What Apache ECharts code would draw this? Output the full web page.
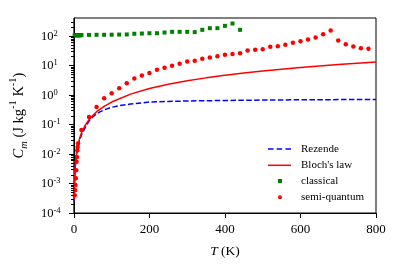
<!DOCTYPE html>
<html><head><meta charset="utf-8">
<script src="https://cdn.jsdelivr.net/npm/echarts@6/dist/echarts.min.js"></script>
<style>html,body{margin:0;padding:0;background:#fff}#c{width:399px;height:271px}</style>
</head><body><div id="c"></div>
<script>
// ---- data ----
const rezendeT = [0.6, 1, 2, 3, 5, 7, 10, 15, 20, 30, 40, 50, 60, 70, 80, 100, 120, 150, 200, 250, 300, 400, 500, 600, 700, 800];
const rezendeC = [2.5e-4, 5.4e-4, 1.5e-3, 2.8e-3, 6.0e-3, 9.8e-3, 0.016, 0.029, 0.044, 0.078, 0.13, 0.18, 0.23, 0.27, 0.31, 0.38, 0.43, 0.49, 0.57, 0.60, 0.62, 0.645, 0.665, 0.68, 0.69, 0.70];

const blochT = [0.6, 1, 2, 3, 5, 7, 10, 15, 20, 30, 40, 50, 60, 80, 100, 150, 200, 250, 300, 350, 400, 450, 500, 550, 600, 650, 700, 750, 800];
const blochC = [2.7e-4, 5.7e-4, 1.6e-3, 3.0e-3, 6.4e-3, 0.0106, 0.018, 0.033, 0.051, 0.094, 0.145, 0.20, 0.27, 0.41, 0.57, 1.06, 1.63, 2.27, 2.98, 3.76, 4.6, 5.48, 6.42, 7.41, 8.44, 9.52, 10.6, 11.8, 13.0];

const classicalT = [2, 4, 6, 8, 10, 12, 14, 16, 18, 20, 40, 60, 80, 100, 120, 140, 160, 180, 200, 220, 240, 260, 280, 300, 320, 340, 360, 380, 400, 420, 440];
const classicalC = [103, 105, 104, 106, 104, 103, 105, 104, 105, 106, 107, 108, 108, 109, 110, 111, 117, 119, 122, 122, 129, 136, 136, 136, 133, 159, 181, 181, 217, 260, 159];

const semiT = [2, 3, 4, 5, 6, 7, 8, 9, 10, 11, 20, 40, 60, 80, 100, 120, 140, 160, 180, 200, 220, 240, 260, 280, 300, 320, 340, 360, 380, 400, 420, 440, 460, 480, 500, 520, 540, 560, 580, 600, 620, 640, 660, 680, 700, 720, 740, 760, 780];
const semiC = [4.0e-4, 5.9e-4, 8.8e-4, 1.5e-3, 2.8e-3, 5.4e-3, 7.9e-3, 0.0133, 0.0173, 0.0224, 0.065, 0.178, 0.39, 0.77, 1.13, 1.68, 2.45, 3.55, 4.5, 5.45, 7.1, 8.3, 9.7, 11.3, 13.5, 14.4, 16.7, 18.5, 20.4, 22.8, 24, 25.8, 31.5, 33.6, 35.3, 42.4, 44.6, 49.5, 57.8, 65.8, 75, 87.5, 113, 150, 69, 52, 43.5, 38, 36.4];

// ---- axes / ticks ----
const xTicks = [0, 200, 400, 600, 800];
const yTickExps = [-4, -3, -2, -1, 0, 1, 2];
const yMinorMultipliers = [2, 3, 4, 5, 6, 7, 8, 9];
const yMin = 1e-4, yMax = 400;

const zip = (a, b) => a.map((v, i) => [v, b[i]]);
const FONT = 'Liberation Serif';

// tick marks on the log axis (major + minor), placed through the axis scale
const tickData = [];
yTickExps.forEach(e => {
  tickData.push([0, Math.pow(10, e), 5]);
  yMinorMultipliers.forEach(m => {
    const v = m * Math.pow(10, e);
    if (v < yMax) tickData.push([0, v, 3]);
  });
});

const legendText = pad => ({fontFamily: FONT, fontSize: 11, color: '#000', lineHeight: 12, padding: [0, 0, 0, pad]});

const chart = echarts.init(document.getElementById('c'), null, {renderer: 'canvas'});
chart.setOption({
  animation: false,
  backgroundColor: '#fff',
  grid: {left: 70, right: 23, top: 18, bottom: 58, show: true, borderColor: '#000', borderWidth: 1, backgroundColor: 'transparent'},
  legend: [
    {
      orient: 'vertical', left: 263, top: 138,
      itemWidth: 23, itemHeight: 4, itemGap: 4.3,
      textStyle: legendText(5),
      data: [
        {name: 'Rezende', icon: 'path://M0,0H5.5V1.5H0Z M8.7,0H14.2V1.5H8.7Z M17.5,0H23V1.5H17.5Z'},
        {name: "Bloch's law", icon: 'path://M0,0H23V1.5H0Z'}
      ]
    },
    {
      orient: 'vertical', left: 273, top: 170,
      itemWidth: 4, itemHeight: 4, itemGap: 4.3,
      textStyle: legendText(14),
      data: ['classical', 'semi-quantum']
    }
  ],
  xAxis: {
    type: 'value', min: 0, max: 800, interval: 200,
    name: '{i|T}{r| (K)}', nameLocation: 'middle', nameGap: 31,
    nameTextStyle: {rich: {
      i: {fontFamily: FONT, fontStyle: 'italic', fontSize: 13.5, color: '#000'},
      r: {fontFamily: FONT, fontSize: 13.5, color: '#000'}
    }},
    axisLine: {show: true, lineStyle: {color: '#000', width: 1}},
    axisTick: {show: true, inside: false, length: 5, lineStyle: {color: '#000'}},
    axisLabel: {fontFamily: FONT, fontSize: 13, color: '#000', margin: 10,
      formatter: v => xTicks.indexOf(v) >= 0 ? String(v) : ''},
    splitLine: {show: false}
  },
  yAxis: {
    type: 'log', logBase: 10, min: yMin, max: yMax,
    name: '{i|C}{sub|m}{r| (J kg}{sup|-1}{r| K}{sup|-1}{r|)}',
    nameLocation: 'middle', nameGap: 39, nameRotate: 90,
    nameTextStyle: {rich: {
      i: {fontFamily: FONT, fontStyle: 'italic', fontSize: 14.5, lineHeight: 22, color: '#000'},
      sub: {fontFamily: FONT, fontStyle: 'italic', fontSize: 10.5, lineHeight: 16, verticalAlign: 'bottom', color: '#000'},
      r: {fontFamily: FONT, fontSize: 14.5, lineHeight: 22, color: '#000'},
      sup: {fontFamily: FONT, fontSize: 10.5, lineHeight: 13, verticalAlign: 'top', color: '#000'}
    }},
    axisLine: {show: true, lineStyle: {color: '#000', width: 1}},
    axisTick: {show: false},
    axisLabel: {
      align: 'left', margin: 33,
      formatter: v => {
        const e = Math.round(Math.log10(v));
        if (Math.abs(Math.log10(v) - e) > 1e-6 || yTickExps.indexOf(e) < 0) return '';
        return '{b|10}{s|' + (e < 0 ? '-' : '') + Math.abs(e) + '}';
      },
      rich: {
        b: {fontFamily: FONT, fontSize: 12.5, lineHeight: 13, padding: [5, 0, 0, 0], verticalAlign: 'bottom', color: '#000'},
        s: {fontFamily: FONT, fontSize: 8.5, lineHeight: 14, verticalAlign: 'top', color: '#000'}
      }
    },
    splitLine: {show: false},
    minorTick: {show: false}
  },
  series: [
    {name: 'Rezende', type: 'line', data: zip(rezendeT, rezendeC), symbol: 'none', z: 2,
     itemStyle: {color: '#0000ff'}, lineStyle: {color: '#0000ff', width: 1.5, type: [5.5, 2.4]}},
    {name: "Bloch's law", type: 'line', data: zip(blochT, blochC), symbol: 'none', z: 3,
     itemStyle: {color: '#ff0000'}, lineStyle: {color: '#ff0000', width: 1.5}},
    {name: 'classical', type: 'scatter', data: zip(classicalT, classicalC), symbol: 'rect', symbolSize: 4, z: 4,
     itemStyle: {color: '#008000', opacity: 1}},
    {name: 'semi-quantum', type: 'scatter', data: zip(semiT, semiC), symbol: 'circle', symbolSize: 4.5, z: 5,
     itemStyle: {color: '#ff0000', opacity: 1}},
    {name: 'yticks', type: 'custom', data: tickData, encode: {x: 0, y: 1}, silent: true, clip: false, z: 10,
     renderItem: (params, api) => {
       const p = api.coord([api.value(0), api.value(1)]);
       const len = api.value(2);
       const y = Math.round(p[1]) + 0.5;
       const x = Math.round(p[0]);
       return {type: 'line', shape: {x1: x - len, y1: y, x2: x, y2: y}, style: {stroke: '#000', lineWidth: 1}};
     }}
  ]
});
</script>
</body></html>
